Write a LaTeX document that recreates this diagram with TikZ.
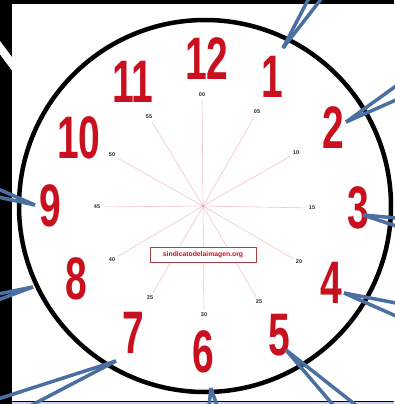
\documentclass[tikz,border=0pt]{standalone}
\usepackage{fontspec}
\usepackage{graphicx}
\setmainfont{Liberation Sans}
\definecolor{clockred}{HTML}{C8101E}
\definecolor{callout}{HTML}{4A6FA0}
\definecolor{spoke}{HTML}{F0C4CC}
\definecolor{minute}{HTML}{2A2A2A}
\definecolor{bottomline}{HTML}{C8D0F0}
\newcommand{\clocknum}[1]{\scalebox{0.65}[1]{#1}}
\tikzset{
  numeral/.style={text=clockred, font=\fontsize{60}{60}\selectfont\bfseries, inner sep=0pt},
  minlabel/.style={text=minute, font=\fontsize{5.5}{5.5}\selectfont\bfseries, inner sep=2.5pt},
  spokeline/.style={draw=spoke, line width=0.6pt},
  pointer/.style={draw=callout, line width=3.5pt},
  sitebox/.style={draw=clockred!60!gray, fill=white, text=clockred, line width=0.8pt,
    font=\fontsize{6.8}{6.8}\selectfont\bfseries, minimum width=106pt, minimum height=15pt, inner sep=1pt},
}
\begin{document}
\begin{tikzpicture}[x=1pt,y=-1pt]
\useasboundingbox (0,0) rectangle (394,404);
% background
\fill[black] (0,0) rectangle (394,404);
\fill[white] (12,4) rectangle (394,401);
\draw[bottomline, line width=2pt] (12,402.5) -- (394,402.5);
\draw[white, line width=8pt] (-5,41) -- (45,108);
% clock face
\coordinate (c) at (203,206);
\coordinate (rim) at (205,206);
\draw[black, line width=4.5pt] (rim) circle (186);
% minute labels
\node[minlabel] (m00) at (202,95) {00};
\node[minlabel] (m05) at (257,112) {05};
\node[minlabel] (m10) at (296,153) {10};
\node[minlabel] (m15) at (312,208) {15};
\node[minlabel] (m20) at (299,262) {20};
\node[minlabel] (m25) at (259,302) {25};
\node[minlabel] (m30) at (204,315) {30};
\node[minlabel] (m35) at (150,298) {35};
\node[minlabel] (m40) at (112,260) {40};
\node[minlabel] (m45) at (97,207) {45};
\node[minlabel] (m50) at (112,155) {50};
\node[minlabel] (m55) at (149,117) {55};
\foreach \m in {00,05,10,15,20,25,30,35,40,45,50,55}
  \draw[spokeline] (c) -- (m\m);
\fill[spoke!80!red] (c) circle (1.5);
\node[sitebox] (site) at (203,255) {sindicatodelaimagen.org};
% numerals
\node[numeral] (n12) at (207,59) {\clocknum{12}};
\node[numeral] (n1) at (272,77) {\clocknum{1}};
\node[numeral] (n2) at (333,128) {\clocknum{2}};
\node[numeral] (n3) at (358,208) {\clocknum{3}};
\node[numeral] (n4) at (331,283) {\clocknum{4}};
\node[numeral] (n5) at (279,335) {\clocknum{5}};
\node[numeral] (n6) at (203,352) {\clocknum{6}};
\node[numeral] (n7) at (133,333) {\clocknum{7}};
\node[numeral] (n8) at (76,279) {\clocknum{8}};
\node[numeral] (n9) at (50,206) {\clocknum{9}};
\node[numeral] (n10) at (79,138) {\clocknum{10}};
\node[numeral] (n11) at (133,82) {\clocknum{11}};
% callout pointers
\coordinate (t1) at (283,48);  \coordinate (a1) at (309,-2);  \coordinate (b1) at (322,-2);
\coordinate (t2) at (346,122); \coordinate (a2) at (396,86);  \coordinate (b2) at (396,100);
\coordinate (t3) at (363,215); \coordinate (a3) at (396,218); \coordinate (b3) at (396,226);
\coordinate (t4) at (344,293); \coordinate (a4) at (396,303); \coordinate (b4) at (396,316);
\coordinate (t5) at (286,350); \coordinate (a5) at (334,406); \coordinate (b5) at (357,406);
\coordinate (t6) at (211,388); \coordinate (a6) at (209,406); \coordinate (b6) at (217,406);
\coordinate (t7) at (116,361); \coordinate (a7) at (-2,399);  \coordinate (b7) at (30,406);
\coordinate (t8) at (33,287);  \coordinate (a8) at (-2,294);  \coordinate (b8) at (-2,300);
\coordinate (t9) at (35,205);  \coordinate (a9) at (-2,189);  \coordinate (b9) at (-2,197);
\foreach \i in {1,...,9}{
  \draw[pointer] (t\i) -- (a\i);
  \draw[pointer] (t\i) -- (b\i);
}
\end{tikzpicture}
\end{document}
